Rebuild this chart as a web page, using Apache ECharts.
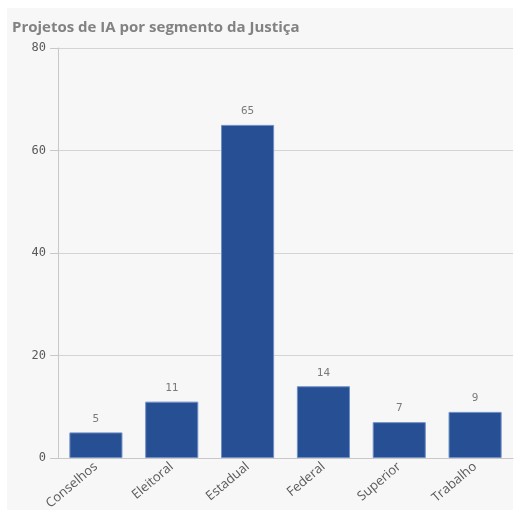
<!DOCTYPE html>
<html>
<head>
  <meta charset="utf-8">
  <title>Projetos de IA por segmento da Justiça</title>
  <script src="https://cdn.jsdelivr.net/npm/echarts@6/dist/echarts.min.js"></script>
  <style>
    html, body { margin: 0; padding: 0; background: #fff; }
    #panel { position: absolute; left: 7px; top: 8px; width: 506px; height: 502px; background: #f7f7f7; }
    #main { position: absolute; left: 0; top: 0; width: 514px; height: 513px; }
  </style>
</head>
<body>
  <div id="panel"></div>
  <div id="main"></div>
  <script>
  // dados
  var segmentos = ['Conselhos', 'Eleitoral', 'Estadual', 'Federal', 'Superior', 'Trabalho'];
  var projetos = [5, 11, 65, 14, 7, 9];
  var yTicks = [0, 20, 40, 60, 80];

  var myChart = echarts.init(document.getElementById('main'));
  myChart.setOption({
    animation: false,
    title: {
      text: 'Projetos de IA por segmento da Justiça',
      left: 7, top: 15,
      textStyle: { fontFamily: 'Open Sans', fontWeight: 'bold', fontSize: 15, color: '#828282' }
    },
    grid: { left: 58, right: 1, top: 48, bottom: 55 },
    xAxis: {
      type: 'category',
      data: segmentos,
      axisLine: { lineStyle: { color: '#c8c8c8' } },
      axisTick: { show: false },
      axisLabel: { rotate: 40, color: '#595959', fontSize: 13, fontFamily: 'Open Sans', margin: 7 }
    },
    yAxis: {
      type: 'value',
      min: yTicks[0], max: yTicks[yTicks.length - 1], interval: 20,
      axisLine: { show: true, lineStyle: { color: '#c8c8c8' } },
      axisTick: { show: true, length: 8, lineStyle: { color: '#c8c8c8' } },
      axisLabel: { color: '#595959', fontSize: 12, fontFamily: 'DejaVu Sans Mono', margin: 12 },
      splitLine: { lineStyle: { color: '#d4d4d4' } }
    },
    series: [{
      type: 'bar',
      data: projetos,
      barWidth: '70%',
      itemStyle: { color: '#264f94', borderColor: '#6f8fc6', borderWidth: 1 },
      label: { show: true, position: 'top', distance: 8, color: '#7a7a7a', fontSize: 11, fontFamily: 'DejaVu Sans Mono' }
    }]
  });
  </script>
</body>
</html>
